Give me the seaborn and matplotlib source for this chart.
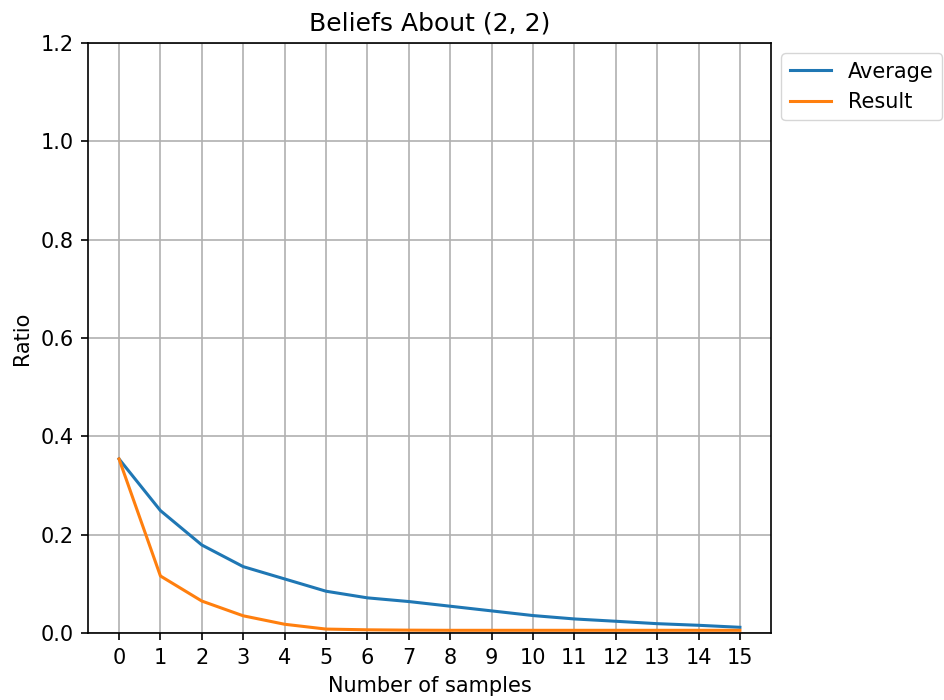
import numpy as np
import pandas as pd
import seaborn as sns
import matplotlib
matplotlib.use("Agg")
import matplotlib.pyplot as plt

samples = list(range(16))
average = [0.354, 0.249, 0.179, 0.135, 0.110, 0.085, 0.0715, 0.064, 0.0545,
           0.045, 0.0355, 0.0286, 0.0239, 0.019, 0.0157, 0.0116]
result = [0.354, 0.116, 0.065, 0.035, 0.0178, 0.008, 0.0065, 0.0058, 0.0055,
          0.0055, 0.0055, 0.0055, 0.0055, 0.0055, 0.0055, 0.0055]
series_names = ["Average", "Result"]

df = pd.DataFrame({
    "samples": samples * 2,
    "ratio": average + result,
    "series": [series_names[0]] * len(samples) + [series_names[1]] * len(samples),
})

plt.rcParams["font.size"] = 15
plt.rcParams["axes.linewidth"] = 1.2
fig, ax = plt.subplots(figsize=(9.44, 7), dpi=100)
fig.subplots_adjust(left=0.0932, right=0.8167, top=0.9386, bottom=0.0957)

sns.lineplot(data=df, x="samples", y="ratio", hue="series",
             palette=["#1f77b4", "#ff7f0e"], linewidth=2.2, ax=ax)

ax.set_xticks(samples)
ax.set_xlim(-0.75, 15.75)
ax.set_ylim(0, 1.2)
ax.tick_params(length=5.25, width=1.2, pad=5.25)
ax.grid(True, color="#b0b0b0", linewidth=1.2)
ax.set_axisbelow(True)
ax.set_title("Beliefs About (2, 2)", pad=9)
ax.set_xlabel("Number of samples", labelpad=6)
ax.set_ylabel("Ratio", labelpad=6)
ax.legend(title=None, loc="upper left", bbox_to_anchor=(1.0, 1.0))

plt.savefig("out.png", dpi=100)
